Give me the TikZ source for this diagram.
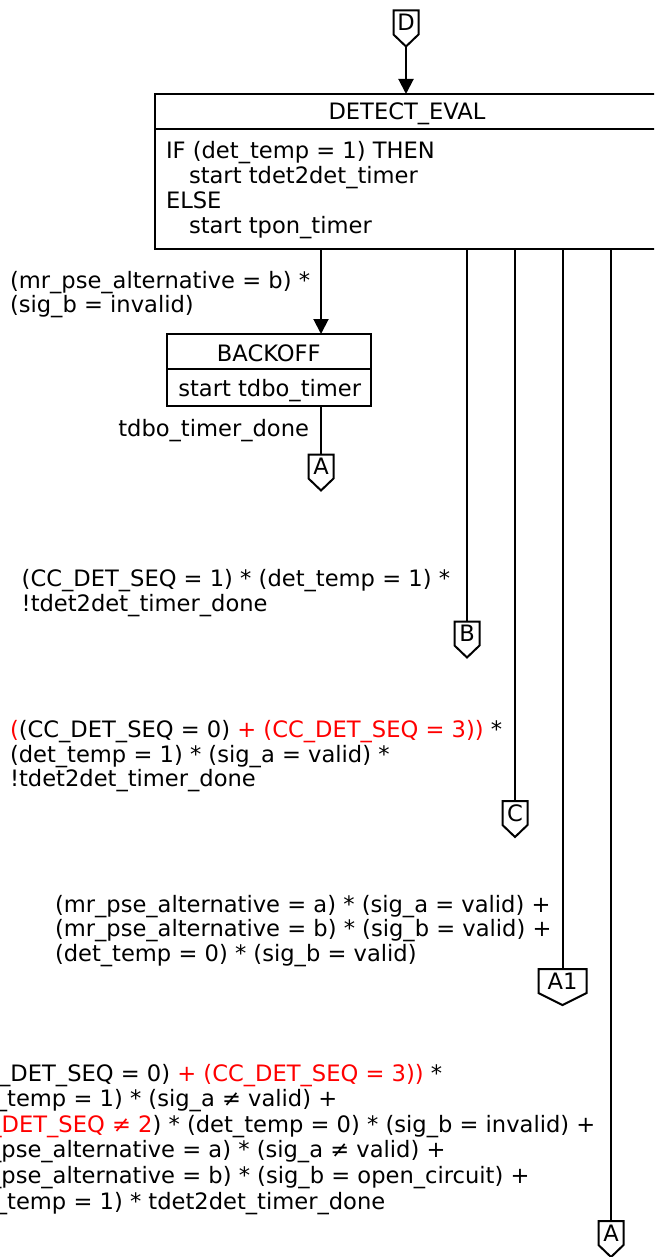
\documentclass[tikz,border=0pt]{standalone}
\usepackage{fontspec}
\setmainfont{DejaVu Sans}
\usetikzlibrary{arrows.meta,calc}
\definecolor{chg}{RGB}{255,0,0}
\newcommand{\txtlines}[1]{\begin{tabular}[t]{@{}l@{}}#1\end{tabular}}
\begin{document}
\begin{tikzpicture}[x=1pt,y=-1pt,line width=2pt,
  every node/.style={inner sep=0pt,outer sep=0pt,font=\fontsize{22.6}{24.7}\selectfont},
  lbl/.style={anchor=base west},
  boxtxt/.style={anchor=base west,font=\fontsize{22.6}{25}\selectfont},
  conn/.style={minimum width=25pt,minimum height=24pt},
  statebox/.style={draw,anchor=north west},
  arr/.style={-{Triangle[length=15pt,width=15pt]}}]
\useasboundingbox (0,0) rectangle (654,1257);
\clip (0,0) rectangle (654,1257);

% off-page connectors
\node[conn] (cD) at (406,22.5) {D};
\node[conn] (cA0) at (321,466.5) {A};
\node[conn] (cB) at (467,633.5) {B};
\node[conn] (cC) at (515,813) {C};
\node[conn,minimum width=48pt] (cA1) at (562.5,981) {A1};
\node[conn] (cA2) at (611,1233) {A};
\foreach \c in {cD,cA0,cB,cC,cA1,cA2}{
  \draw (\c.north west) -- (\c.north east) -- (\c.south east)
     -- ([yshift=-12pt]\c.south) -- (\c.south west) -- cycle;
  \coordinate (\c tip) at ([yshift=-12pt]\c.south);
}

% DETECT_EVAL
\node[statebox,minimum width=505pt,minimum height=155pt] (eval) at (154.7,94) {};
\draw (eval.north west) ++(0,-35pt) coordinate (evs) -- (evs -| eval.east);
\node[anchor=base] (evt) at (407,120) {DETECT\_EVAL};
\node[boxtxt] (evb) at (166,158.3) {\txtlines{IF (det\_temp = 1) THEN\\
  \hspace*{23pt}start tdet2det\_timer\\ ELSE\\ \hspace*{23pt}start tpon\_timer}};

% BACKOFF
\node[statebox,minimum width=204.3pt,minimum height=71.7pt] (back) at (166.7,334) {};
\draw (back.north west) ++(0,-35pt) coordinate (bks) -- (bks -| back.east);
\node[anchor=base] (bkt) at (268.8,361.7) {BACKOFF};
\node[boxtxt] (bkb) at (178.3,396) {start tdbo\_timer};

% connectors
\draw[arr] (cDtip) -- (eval.north -| cDtip);
\draw[arr] (eval.south -| cA0) -- (back.north -| cA0);
\draw (back.south -| cA0) -- (cA0.north);
\draw (eval.south -| cB) -- (cB.north);
\draw (eval.south -| cC) -- (cC.north);
\draw (eval.south -| cA1) -- (cA1.north);
\draw (eval.south -| cA2) -- (cA2.north);

% labels
\node[lbl] (l1) at (10,288) {\txtlines{(mr\_pse\_alternative = b) *\\(sig\_b = invalid)}};
\node[lbl] (l2) at (118.3,436.7) {tdbo\_timer\_done};
\node[lbl,font=\fontsize{22.6}{25.3}\selectfont] (l3) at (21.7,586) {\txtlines{(CC\_DET\_SEQ = 1) * (det\_temp = 1) *\\!tdet2det\_timer\_done}};
\node[lbl] (l4) at (10,737.5) {\txtlines{\textcolor{chg}{(}(CC\_DET\_SEQ = 0) \textcolor{chg}{+ (CC\_DET\_SEQ = 3))} *\\
  (det\_temp = 1) * (sig\_a = valid) *\\!tdet2det\_timer\_done}};
\node[lbl] (l5) at (55,912) {\txtlines{(mr\_pse\_alternative = a) * (sig\_a = valid) +\\
  (mr\_pse\_alternative = b) * (sig\_b = valid) +\\(det\_temp = 0) * (sig\_b = valid)}};
\node[lbl,font=\fontsize{22.6}{25.6}\selectfont] (l6) at (-50,1081) {\txtlines{\textcolor{chg}{(}(CC\_DET\_SEQ = 0) \textcolor{chg}{+ (CC\_DET\_SEQ = 3))} *\\
  (det\_temp = 1) * (sig\_a ≠ valid) +\\
  \textcolor{chg}{(CC\_DET\_SEQ ≠ 2}) * (det\_temp = 0) * (sig\_b = invalid) +\\
  (mr\_pse\_alternative = a) * (sig\_a ≠ valid) +\\
  (mr\_pse\_alternative = b) * (sig\_b = open\_circuit) +\\
  (det\_temp = 1) * tdet2det\_timer\_done}};
\end{tikzpicture}
\end{document}
